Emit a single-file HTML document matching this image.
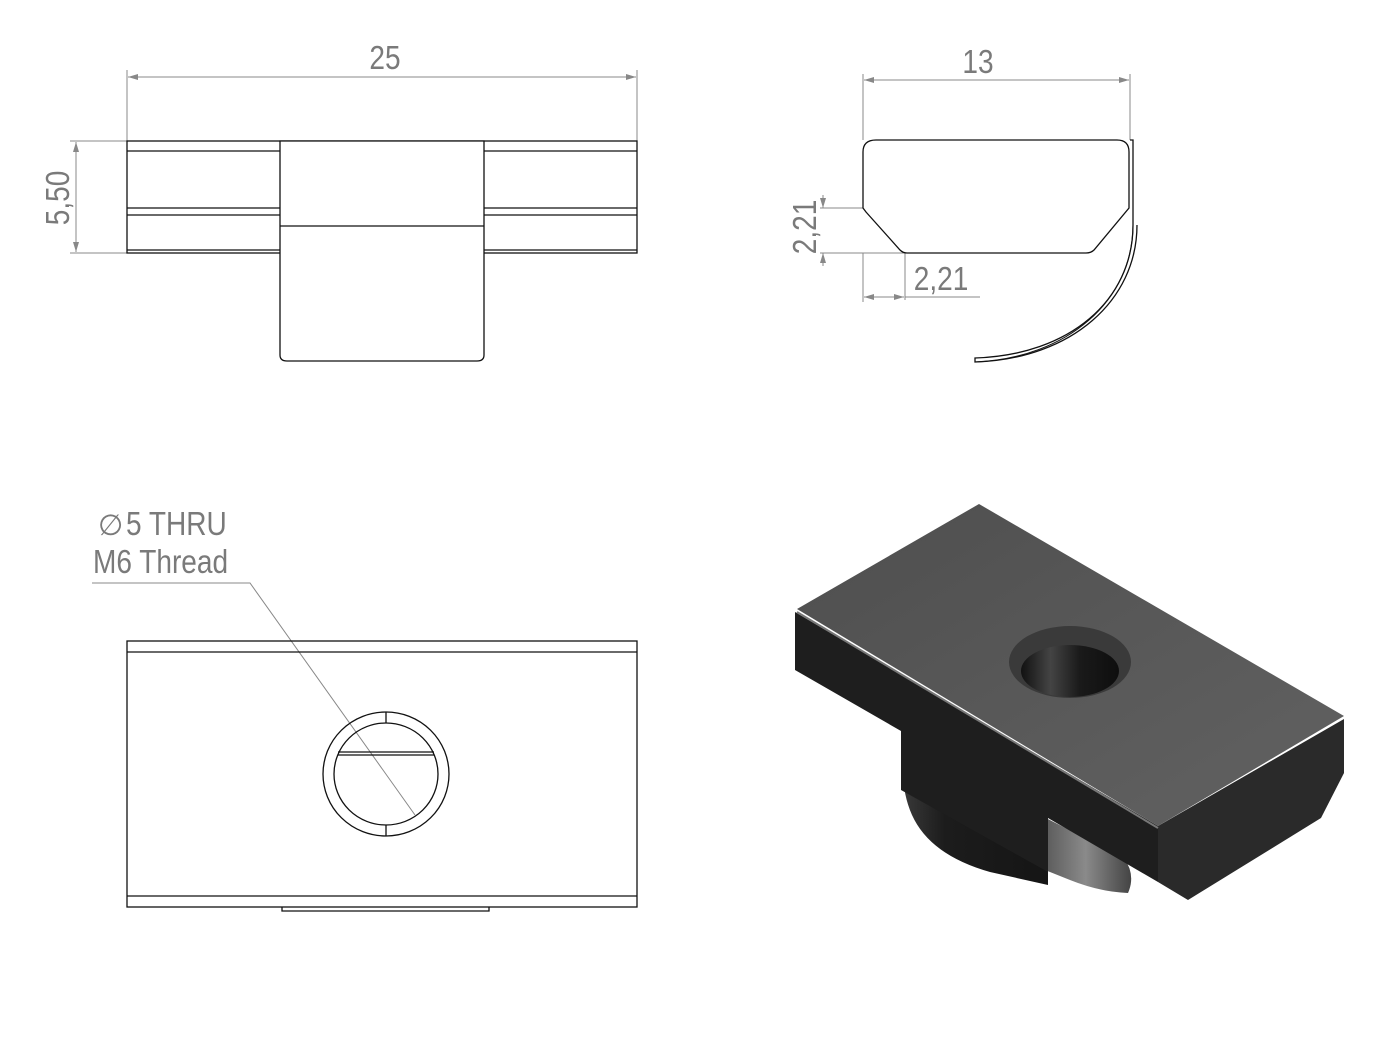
<!DOCTYPE html>
<html><head><meta charset="utf-8"><style>
html,body{margin:0;padding:0;background:#fff;}
svg{display:block;}
text{font-family:"Liberation Sans",sans-serif;fill:#7a7a7a;}
</style></head><body>
<svg width="1389" height="1051" viewBox="0 0 1389 1051" xmlns="http://www.w3.org/2000/svg">
<defs>
<marker id="ar" viewBox="0 0 10 6" refX="10" refY="3" markerWidth="14" markerHeight="6" orient="auto-start-reverse" markerUnits="userSpaceOnUse"><path d="M0,0 L10,3 L0,6 z" fill="#888"/></marker>
<linearGradient id="topg" x1="0" y1="0" x2="1" y2="1"><stop offset="0" stop-color="#4e4e4e"/><stop offset="1" stop-color="#626262"/></linearGradient>
<linearGradient id="tabg" x1="0" y1="0" x2="1" y2="0"><stop offset="0" stop-color="#3a3a3a"/><stop offset="0.3" stop-color="#1c1c1c"/><stop offset="1" stop-color="#151515"/></linearGradient>
<linearGradient id="curl" x1="0" y1="0" x2="1" y2="0"><stop offset="0" stop-color="#555"/><stop offset="0.5" stop-color="#8a8a8a"/><stop offset="1" stop-color="#444"/></linearGradient>
<linearGradient id="holeg" x1="0" y1="0" x2="1" y2="0"><stop offset="0" stop-color="#111"/><stop offset="0.3" stop-color="#444"/><stop offset="0.6" stop-color="#1a1a1a"/><stop offset="1" stop-color="#0e0e0e"/></linearGradient>
</defs>

<!-- TOP LEFT VIEW -->
<g stroke="#888" stroke-width="1" fill="none">
<line x1="127" y1="70" x2="127" y2="141"/>
<line x1="637" y1="70" x2="637" y2="141"/>
<line x1="128" y1="77" x2="636" y2="77" marker-start="url(#ar)" marker-end="url(#ar)"/>
<line x1="70" y1="141" x2="127" y2="141"/>
<line x1="70" y1="253" x2="127" y2="253"/>
<line x1="76" y1="142" x2="76" y2="252" marker-start="url(#ar)" marker-end="url(#ar)"/>
</g>
<text transform="translate(385,69) scale(0.85,1)" font-size="33" text-anchor="middle">25</text>
<text transform="translate(69,198) rotate(-90) scale(0.85,1)" font-size="33" text-anchor="middle">5,50</text>
<g stroke="#111" stroke-width="1.3" fill="none">
<rect x="127" y="141" width="510" height="112"/>
<line x1="127" y1="151" x2="637" y2="151"/>
<line x1="127" y1="208" x2="637" y2="208"/>
<line x1="127" y1="215" x2="637" y2="215"/>
<line x1="127" y1="250" x2="637" y2="250"/>
<path d="M280 141 V355 Q280 361 287 361 H477 Q484 361 484 355 V141 Z" fill="#fff"/>
<line x1="280" y1="226" x2="484" y2="226"/>
</g>

<!-- TOP RIGHT VIEW -->
<g stroke="#888" stroke-width="1" fill="none">
<line x1="863" y1="74" x2="863" y2="140"/>
<line x1="1130" y1="74" x2="1130" y2="140"/>
<line x1="864" y1="80" x2="1129" y2="80" marker-start="url(#ar)" marker-end="url(#ar)"/>
<line x1="820" y1="208" x2="863" y2="208"/>
<line x1="820" y1="253" x2="905" y2="253"/>
<line x1="823" y1="195" x2="823" y2="208" marker-end="url(#ar)"/>
<line x1="823" y1="266" x2="823" y2="253" marker-end="url(#ar)"/>
<line x1="863" y1="253" x2="863" y2="302"/>
<line x1="905" y1="253" x2="905" y2="300"/>
<line x1="864" y1="297" x2="904" y2="297" marker-start="url(#ar)" marker-end="url(#ar)"/>
<line x1="905" y1="297" x2="980" y2="297"/>
</g>
<text transform="translate(978,73) scale(0.85,1)" font-size="33" text-anchor="middle">13</text>
<text transform="translate(941,290) scale(0.85,1)" font-size="33" text-anchor="middle">2,21</text>
<text transform="translate(816,227) rotate(-90) scale(0.85,1)" font-size="33" text-anchor="middle">2,21</text>
<g stroke="#111" stroke-width="1.3" fill="none">
<path d="M863 208 V152 Q863 140 876 140 H1117 Q1129 140 1129 152 V208 L1094 250 Q1091 253 1086 253 H907 Q903 253 900 250 L866 212 Z"/>
<path d="M1130 140 H1133 V225 C1133 300 1070 355 975 358 L975 362 C1072 359 1137 300 1137 225"/>
<path d="M1133 225 C1133 300 1068 358 975 362" stroke-width="1"/>
</g>

<!-- BOTTOM LEFT VIEW -->
<text x="98" y="535" font-size="29">∅</text>
<text transform="translate(126,535) scale(0.85,1)" font-size="33">5 THRU</text>
<text transform="translate(93,573) scale(0.85,1)" font-size="33">M6 Thread</text>
<g stroke="#888" stroke-width="1" fill="none">
<polyline points="92,583 250,583 415,815"/>
</g>
<g stroke="#111" stroke-width="1.3" fill="none">
<rect x="127" y="641" width="510" height="266"/>
<line x1="127" y1="652" x2="637" y2="652"/>
<line x1="127" y1="896" x2="637" y2="896"/>
<polyline points="282,907 282,911 489,911 489,907"/>
<ellipse cx="386" cy="774" rx="63" ry="62"/>
<ellipse cx="386" cy="774" rx="52" ry="51"/>
<line x1="386" y1="712" x2="386" y2="723"/>
<line x1="386" y1="825" x2="386" y2="836"/>
<line x1="338" y1="752" x2="434" y2="752"/>
<line x1="338" y1="755" x2="434" y2="755"/>
</g>

<!-- ISO VIEW -->
<g>
<path d="M1040 815 L1124 858 Q1136 875 1128 893 Q1100 892 1070 880 L1040 868 Z" fill="url(#curl)"/>
<path d="M901 720 L1048 805 L1048 885 L990 872 Q930 855 912 815 Q903 795 903 770 Z" fill="url(#tabg)"/>
<polygon points="795,612 1158,826 1158,882 1048,818 1048,872 901,790 901,731 795,670" fill="#1e1e1e"/>
<polygon points="1158,826 1344,719 1344,773 1321,818 1188,900 1158,882" fill="#2a2a2a"/>
<polygon points="797,609 979,504 1344,716 1158,826" fill="url(#topg)"/>
<line x1="797" y1="612" x2="1158" y2="828" stroke="#777" stroke-width="2"/>
<ellipse cx="1070" cy="662" rx="61" ry="36" fill="#3a3a3a"/>
<ellipse cx="1070" cy="671" rx="49" ry="26" fill="url(#holeg)"/>
</g>
</svg>
</body></html>
